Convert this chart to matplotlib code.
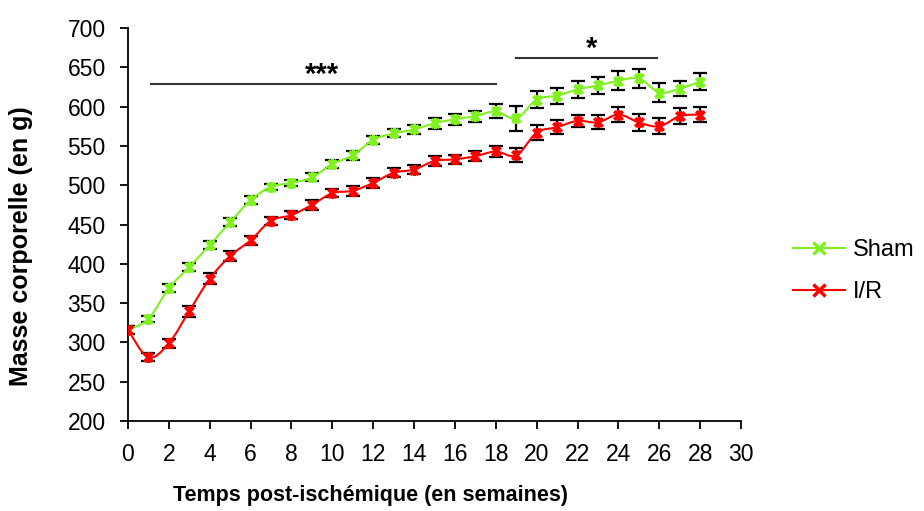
import matplotlib
matplotlib.use("Agg")
import matplotlib.pyplot as plt
import numpy as np
from matplotlib.path import Path
from matplotlib.patches import PathPatch

plt.rcParams["font.family"] = ["Liberation Sans", "DejaVu Sans"]

weeks = np.arange(0, 29)
sham = [316, 330, 369, 396, 424, 453, 481, 498, 503, 510, 527, 538, 558, 566, 571,
        579, 584, 588, 594, 585, 609, 614, 622, 627, 633, 636, 618, 623, 632]
sham_err = [5, 4, 5, 5, 5, 5, 5, 4, 4, 5, 5, 6, 5, 5, 6,
            7, 7, 7, 9, 16, 11, 10, 11, 11, 12, 12, 12, 10, 11]
ir = [316, 281, 299, 340, 381, 410, 430, 455, 462, 475, 490, 493, 503, 516, 520,
      531, 533, 537, 543, 538, 567, 574, 582, 580, 590, 580, 575, 588, 590]
ir_err = [5, 5, 6, 7, 7, 6, 6, 5, 5, 6, 5, 6, 6, 6, 6,
          6, 6, 6, 7, 9, 10, 9, 8, 9, 9, 11, 10, 10, 9]

green = "#80f020"
red = "#ff0000"

# Excel-like star marker: x with a vertical stroke
star = Path([(-1, -1), (1, 1), (-1, 1), (1, -1), (0, -1.3), (0, 1.3)],
            [Path.MOVETO, Path.LINETO, Path.MOVETO, Path.LINETO, Path.MOVETO, Path.LINETO])


def smooth_path(x, y, t=1 / 6):
    # Excel "smoothed line": cubic Bezier segments through the points
    x = np.asarray(x, float)
    y = np.asarray(y, float)
    verts = [(x[0], y[0])]
    codes = [Path.MOVETO]
    n = len(x)
    for i in range(n - 1):
        p0 = (x[max(i - 1, 0)], y[max(i - 1, 0)])
        p1 = (x[i], y[i])
        p2 = (x[i + 1], y[i + 1])
        p3 = (x[min(i + 2, n - 1)], y[min(i + 2, n - 1)])
        c1 = (p1[0] + (p2[0] - p0[0]) * t, p1[1] + (p2[1] - p0[1]) * t)
        c2 = (p2[0] - (p3[0] - p1[0]) * t, p2[1] - (p3[1] - p1[1]) * t)
        verts += [c1, c2, p2]
        codes += [Path.CURVE4] * 3
    return Path(verts, codes)


fig = plt.figure(figsize=(9.24, 5.11), dpi=100)
ax = fig.add_axes([0.1385, 0.176, 0.6635, 0.769])

for vals, errs, col, lab in [(sham, sham_err, green, "Sham"), (ir, ir_err, red, "I/R")]:
    ax.errorbar(weeks, vals, yerr=errs, fmt="none", ecolor="black", elinewidth=1.6,
                capsize=5, capthick=1.6, zorder=2)
    ax.add_patch(PathPatch(smooth_path(weeks, vals), fc="none", ec=col, lw=1.5, zorder=3))
    ax.plot(weeks, vals, ls="none", color=col, marker=star, ms=8, mew=2.5, zorder=4)
    ax.plot([], [], color=col, lw=1.5, marker="x", ms=8, mew=2.5, label=lab)

# significance bars
ax.plot([1.15, 18.0], [629, 629], color="#333333", lw=1.5)
ax.text(9.5, 630, "***", ha="center", va="baseline", fontsize=21, fontweight="bold")
ax.plot([19.0, 25.9], [662, 662], color="#333333", lw=1.5)
ax.text(22.7, 663, "*", ha="center", va="baseline", fontsize=21, fontweight="bold")

ax.set_xlim(0, 30)
ax.set_ylim(200, 700)
ax.set_xticks(np.arange(0, 31, 2))
ax.set_yticks(np.arange(200, 701, 50))
ax.tick_params(axis="both", labelsize=16.5, direction="out", length=6, width=1.3, pad=10)
ax.spines["top"].set_visible(False)
ax.spines["right"].set_visible(False)
ax.spines["left"].set_linewidth(1.3)
ax.spines["bottom"].set_linewidth(1.3)

ax.set_xlabel("Temps post-ischémique (en semaines)", fontsize=15.5, fontweight="bold")
ax.xaxis.set_label_coords(0.3956, -0.163)
ax.set_ylabel("Masse corporelle (en g)", fontsize=18, fontweight="bold")
ax.yaxis.set_label_coords(-0.155, 0.445)

leg = ax.legend(loc="center left", bbox_to_anchor=(1.085, 0.381), frameon=False,
                fontsize=17, handlelength=2.2, handletextpad=0.35, labelspacing=0.85,
                borderpad=0, borderaxespad=0)

fig.savefig("out.png", dpi=100)
